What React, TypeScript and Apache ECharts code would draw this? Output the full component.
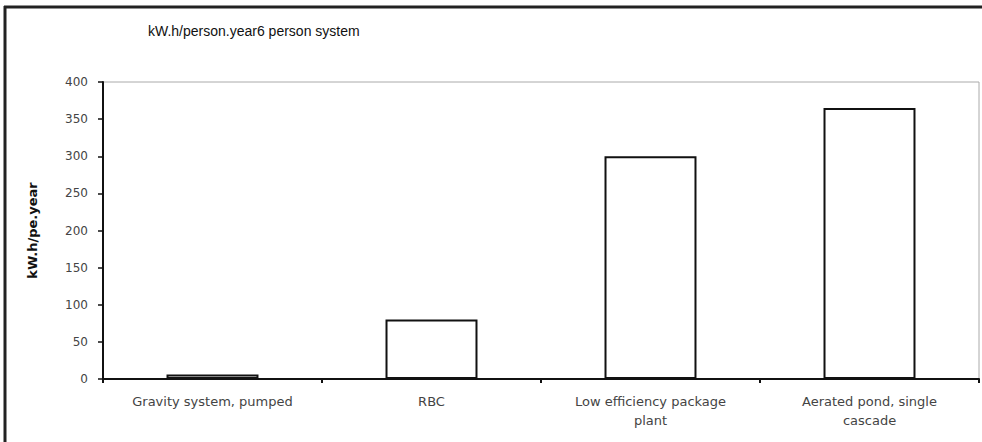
import React, { useEffect, useRef } from "react";
import * as echarts from "echarts";

const categories = [
  "Gravity system, pumped",
  "RBC",
  "Low efficiency package\nplant",
  "Aerated pond, single\ncascade",
];
const values = [6, 80, 300, 365];
const yTicks = { min: 0, max: 400, interval: 50 };
const titleText = "kW.h/person.year6 person system";
const yAxisName = "kW.h/pe.year";

export default function App() {
  const ref = useRef<HTMLDivElement>(null);
  useEffect(() => {
    if (!ref.current) return;
    const chart = echarts.init(ref.current, undefined, { renderer: "svg" });
    chart.setOption({
      animation: false,
      backgroundColor: "#fff",
      title: {
        text: titleText,
        left: 143,
        top: 19,
        textStyle: {
          fontFamily: "Liberation Sans",
          fontSize: 14,
          fontWeight: "normal",
          color: "#111",
        },
      },
      graphic: [
        { type: "line", shape: { x1: 5, y1: 6, x2: 5, y2: 442 }, style: { stroke: "#222", lineWidth: 3 } },
        { type: "line", shape: { x1: 4, y1: 7, x2: 982, y2: 7 }, style: { stroke: "#222", lineWidth: 3 } },
      ],
      grid: {
        left: 103,
        top: 82,
        right: 3,
        bottom: 63,
        show: true,
        borderColor: "#aaa",
        borderWidth: 1,
      },
      xAxis: {
        type: "category",
        data: categories,
        axisLine: { lineStyle: { color: "#111", width: 2 } },
        axisTick: { show: true, length: 4, lineStyle: { color: "#111", width: 2 } },
        axisLabel: {
          fontFamily: "DejaVu Sans",
          fontSize: 13,
          color: "#444",
          margin: 13,
          lineHeight: 19,
          interval: 0,
        },
      },
      yAxis: {
        type: "value",
        min: yTicks.min,
        max: yTicks.max,
        interval: yTicks.interval,
        name: yAxisName,
        nameLocation: "middle",
        nameGap: 64,
        nameRotate: 90,
        nameTextStyle: {
          fontFamily: "DejaVu Sans",
          fontSize: 13,
          fontWeight: "bold",
          color: "#111",
        },
        splitLine: { show: false },
        axisLine: { show: true, lineStyle: { color: "#111", width: 2 } },
        axisTick: { show: true, length: 5, lineStyle: { color: "#111", width: 1.5 } },
        axisLabel: {
          fontFamily: "DejaVu Sans",
          fontSize: 12,
          color: "#444",
          margin: 15,
        },
      },
      series: [
        {
          type: "bar",
          data: values,
          barWidth: "42%",
          itemStyle: { color: "#fff", borderColor: "#111", borderWidth: 2 },
        },
      ],
    });
    return () => chart.dispose();
  }, []);
  return (
    <div
      ref={ref}
      style={{ position: "fixed", left: 0, top: 0, width: 982, height: 442 }}
    />
  );
}
